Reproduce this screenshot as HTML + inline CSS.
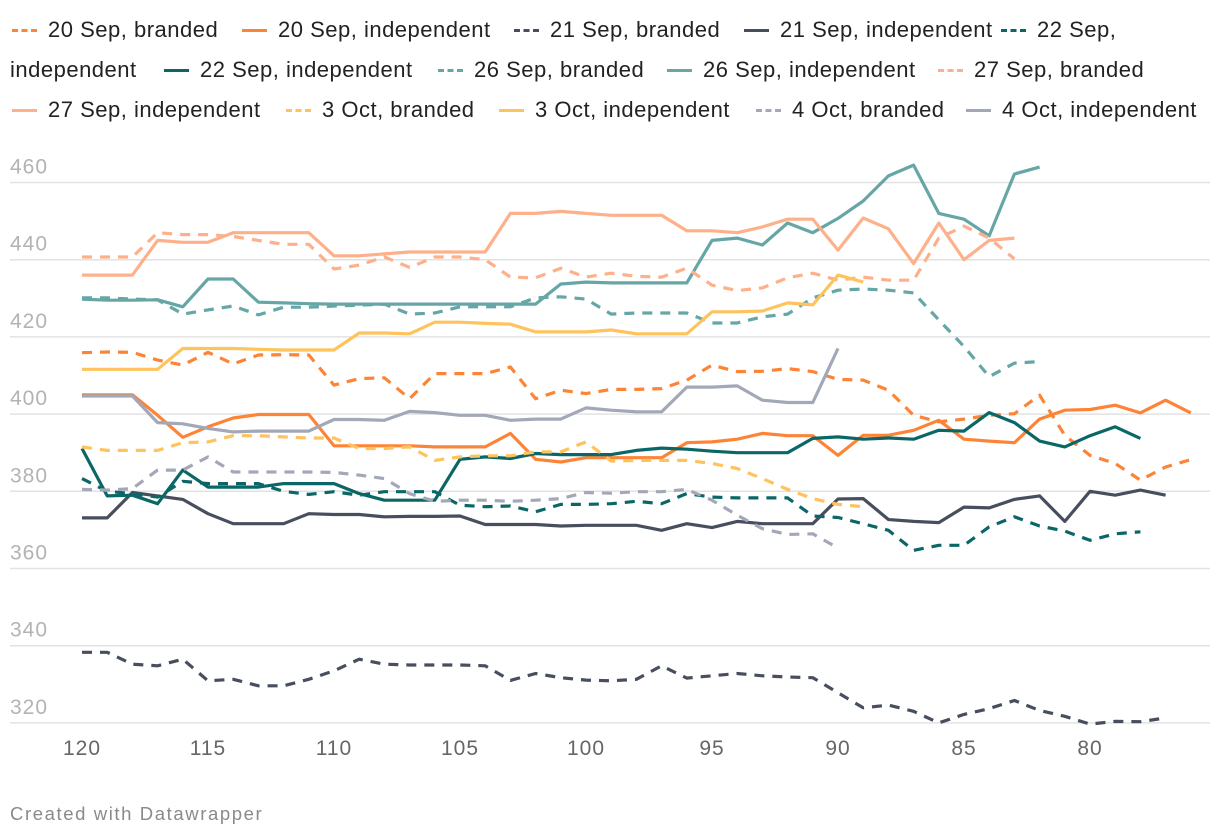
<!DOCTYPE html>
<html><head><meta charset="utf-8"><style>
body{margin:0;background:#fff;width:1220px;height:838px;overflow:hidden;font-family:"Liberation Sans",sans-serif;}
.leg{position:absolute;font-size:22px;letter-spacing:0.5px;color:#222;white-space:nowrap;line-height:24px}
.ic{position:absolute;top:11px;width:25px;height:0;border-top:3.5px solid}
.ic.d{border-top-style:dashed}
</style></head><body>
<div id="legend" style="position:absolute;left:0;top:0;width:1220px;height:130px"></div>
<svg id="chart" width="1220" height="838" style="position:absolute;left:0;top:0"></svg>
<div style="position:absolute;left:10px;top:803px;font-size:18.5px;letter-spacing:1.6px;color:#8a8a8a">Created with Datawrapper</div>
<script>
const xTicks=[120,115,110,105,100,95,90,85,80];
const yTicks=[460,440,420,400,380,360,340,320];
const s20b=[415.9,416.1,416,414,412.7,416,413,415.3,415.4,415.3,407.5,409.2,409.4,404,410.5,410.5,410.5,412.2,404,406.2,405.3,406.4,406.4,406.6,408.8,412.7,411,411.1,411.8,411,409,408.8,406.2,399.7,398,398.7,399.7,400.1,404.9,394.5,389.3,387.2,382.9,386.3,388.2];
const s20i=[405,405,405,399.7,394,396.7,399,399.9,399.9,399.9,391.8,391.8,391.8,391.8,391.5,391.5,391.5,395,388.3,387.6,388.7,388.7,388.7,388.7,392.6,392.8,393.5,395,394.4,394.4,389.3,394.5,394.5,395.8,398.4,393.5,393,392.6,398.7,401,401.2,402.3,400.3,403.6,400.3];
const s21b=[338.3,338.3,335.2,334.8,336.5,330.9,331.3,329.6,329.6,331.3,333.5,336.5,335.2,335,335,335,334.8,331,332.8,331.7,331.1,330.9,331.3,334.8,331.6,332.2,332.8,332.2,331.9,331.7,327.8,323.9,324.6,323,320,322.2,323.7,325.8,323.2,321.7,319.7,320.4,320.3,321.3];
const s21i=[373.1,373.1,379.7,378.8,377.9,374.2,371.6,371.6,371.6,374.2,374,374,373.4,373.5,373.5,373.6,371.4,371.4,371.4,371,371.2,371.2,371.2,369.9,371.6,370.6,372.2,371.6,371.6,371.6,378,378.1,372.7,372.2,371.9,375.9,375.7,377.9,378.8,372.2,380,379,380.3,379];
const s22b=[383.3,380,379.4,378.5,382.6,382,382,382,380,379.2,379.9,379,379.9,379.9,379.9,376.4,376,376.2,374.7,376.6,376.6,376.8,377.4,376.8,379.4,378.5,378.3,378.3,378.3,373.6,373.2,371.6,369.9,364.7,366,366,370.8,373.4,371,369.7,367.3,369,369.5];
const s22i=[391.1,378.8,379,376.8,385.5,381.1,381.1,381.1,382,382,382,379.4,377.7,377.7,377.7,388.3,388.9,388.5,389.8,389.5,389.5,389.5,390.6,391.2,390.9,390.4,390,390,390,393.7,394.1,393.5,393.8,393.5,395.8,395.6,400.4,397.8,393,391.5,394.4,396.7,393.7];
const s26b=[430.1,430.1,429.8,429.6,425.9,427,428,425.7,427.7,427.7,428,428.2,428.5,425.9,426.2,427.8,427.8,427.8,430.1,430.4,429.8,425.9,426.2,426.2,426.2,423.6,423.6,425.2,425.9,430.1,432.1,432.4,432.1,431.4,424.4,417.5,409.7,413.2,413.6];
const s26i=[429.8,429.5,429.5,429.6,427.8,435,435,429,428.8,428.6,428.5,428.5,428.5,428.5,428.5,428.5,428.5,428.5,428.5,433.7,434.2,434,434,434,434,445,445.6,443.8,449.5,447,450.7,455.2,461.7,464.5,452,450.5,446.2,462.2,464];
const s27b=[440.7,440.7,440.7,447,446.5,446.5,446,445,444,444,437.6,438.6,440.7,438,440.7,440.7,440,435.5,435.3,437.8,435.5,436.5,435.7,435.5,437.8,433.4,432,432.7,435.3,436.5,434.7,435.5,434.7,434.7,445.6,448.7,445.6,440.2];
const s27i=[436,436,436,445,444.5,444.5,447,447,447,447,441,441,441.5,442,442,442,442,452,452,452.5,452,451.5,451.5,451.5,447.5,447.5,447,448.5,450.5,450.5,442.5,450.8,448,439,449.5,440,445,445.6];
const s3b=[391.5,390.6,390.6,390.6,392.6,392.8,394.4,394.4,394.1,393.8,393.8,391.1,391.1,391.5,388,388.9,389.2,389.2,390.2,390.2,392.8,387.8,388,388,388,387.2,385.9,383.3,380.5,378.1,376.6,376];
const s3i=[411.6,411.6,411.6,411.6,417,417,417,416.8,416.6,416.6,416.6,421,421,420.8,423.8,423.8,423.5,423.3,421.3,421.3,421.3,421.8,420.8,420.8,420.8,426.5,426.5,426.7,428.8,428.3,436,434.2];
const s4b=[380.5,380.3,380.7,385.5,385.5,388.9,385,385,385,385,384.9,384.2,383.3,379.4,377.4,377.7,377.7,377.4,377.7,378.1,379.7,379.5,379.9,379.9,380.5,377.7,373.8,370.3,368.8,369,365.3];
const s4i=[404.7,404.7,404.7,397.8,397.5,396.3,395.4,395.6,395.6,395.6,398.6,398.6,398.4,400.7,400.4,399.7,399.7,398.4,398.7,398.7,401.6,401,400.6,400.6,407,407,407.3,403.6,403,403,417];
const startX=120;
const C20='#fd8436',C21='#474e5e',C22='#0b6767',C26='#66a6a6',C27='#fdb08a',C3='#fec35c',C4='#a3a8b8';
const series=[
 {n:'20 Sep, branded',d:s20b,c:C20,dash:true,tx:48,ly:18},
 {n:'20 Sep, independent',d:s20i,c:C20,dash:false,tx:278,ly:18},
 {n:'21 Sep, branded',d:s21b,c:C21,dash:true,tx:550,ly:18},
 {n:'21 Sep, independent',d:s21i,c:C21,dash:false,tx:780,ly:18},
 {n:'22 Sep, branded',d:s22b,c:C22,dash:true,tx:1037,ly:18},
 {n:'22 Sep, independent',d:s22i,c:C22,dash:false,tx:200,ly:58},
 {n:'26 Sep, branded',d:s26b,c:C26,dash:true,tx:474,ly:58},
 {n:'26 Sep, independent',d:s26i,c:C26,dash:false,tx:703,ly:58},
 {n:'27 Sep, branded',d:s27b,c:C27,dash:true,tx:974,ly:58},
 {n:'27 Sep, independent',d:s27i,c:C27,dash:false,tx:48,ly:98},
 {n:'3 Oct, branded',d:s3b,c:C3,dash:true,tx:322,ly:98},
 {n:'3 Oct, independent',d:s3i,c:C3,dash:false,tx:535,ly:98},
 {n:'4 Oct, branded',d:s4b,c:C4,dash:true,tx:792,ly:98},
 {n:'4 Oct, independent',d:s4i,c:C4,dash:false,tx:1002,ly:98}
];
function xs(v){return 82+(120-v)*25.2;}
function ys(v){return 182.5+(460-v)*3.86;}
const NS='http://www.w3.org/2000/svg';
const svg=document.getElementById('chart');
yTicks.forEach(t=>{
 const l=document.createElementNS(NS,'line');
 
 
 l.setAttribute('x1',10);l.setAttribute('x2',1210);l.setAttribute('y1',ys(t));l.setAttribute('y2',ys(t));
 l.setAttribute('stroke','#e2e2e2');l.setAttribute('stroke-width',1.5);
 svg.appendChild(l);
 const tx=document.createElementNS(NS,'text');
 
 
 tx.setAttribute('x',10);tx.setAttribute('y',ys(t)-9);
 tx.setAttribute('font-size','21');tx.setAttribute('letter-spacing','1');tx.setAttribute('fill','#b3b3b3');
 tx.textContent=t;svg.appendChild(tx);
});
xTicks.forEach(t=>{
 const tx=document.createElementNS(NS,'text');
 
 
 tx.setAttribute('x',xs(t));tx.setAttribute('y',755);tx.setAttribute('text-anchor','middle');
 tx.setAttribute('font-size','21');tx.setAttribute('letter-spacing','1');tx.setAttribute('fill','#666');
 tx.textContent=t;svg.appendChild(tx);
});
const leg=document.getElementById('legend');
series.forEach(s=>{
 const p=document.createElementNS(NS,'path');
 
 
 p.setAttribute('d',s.d.map((v,i)=>(i?'L':'M')+xs(startX-i).toFixed(1)+','+ys(v).toFixed(1)).join(''));
 p.setAttribute('fill','none');p.setAttribute('stroke',s.c);p.setAttribute('stroke-width',3.2);
 p.setAttribute('stroke-linejoin','round');
 if(s.dash)p.setAttribute('stroke-dasharray','10 8');
 svg.appendChild(p);
 const ic=document.createElement('span');
 
 
 ic.className='ic'+(s.dash?' d':'');
 ic.style.left=(s.tx-36)+'px';ic.style.top=(s.ly+11)+'px';ic.style.borderColor=s.c;
 leg.appendChild(ic);
 const it=document.createElement('div');
 
 
 it.className='leg';
 it.style.left=s.tx+'px';it.style.top=s.ly+'px';
 it.textContent=(s.n==='22 Sep, branded')?'22 Sep,':s.n;
 leg.appendChild(it);
});
const w=document.createElement('div');


w.className='leg';w.style.left='10px';w.style.top='58px';w.textContent='independent';
leg.appendChild(w);
</script>
</body></html>
